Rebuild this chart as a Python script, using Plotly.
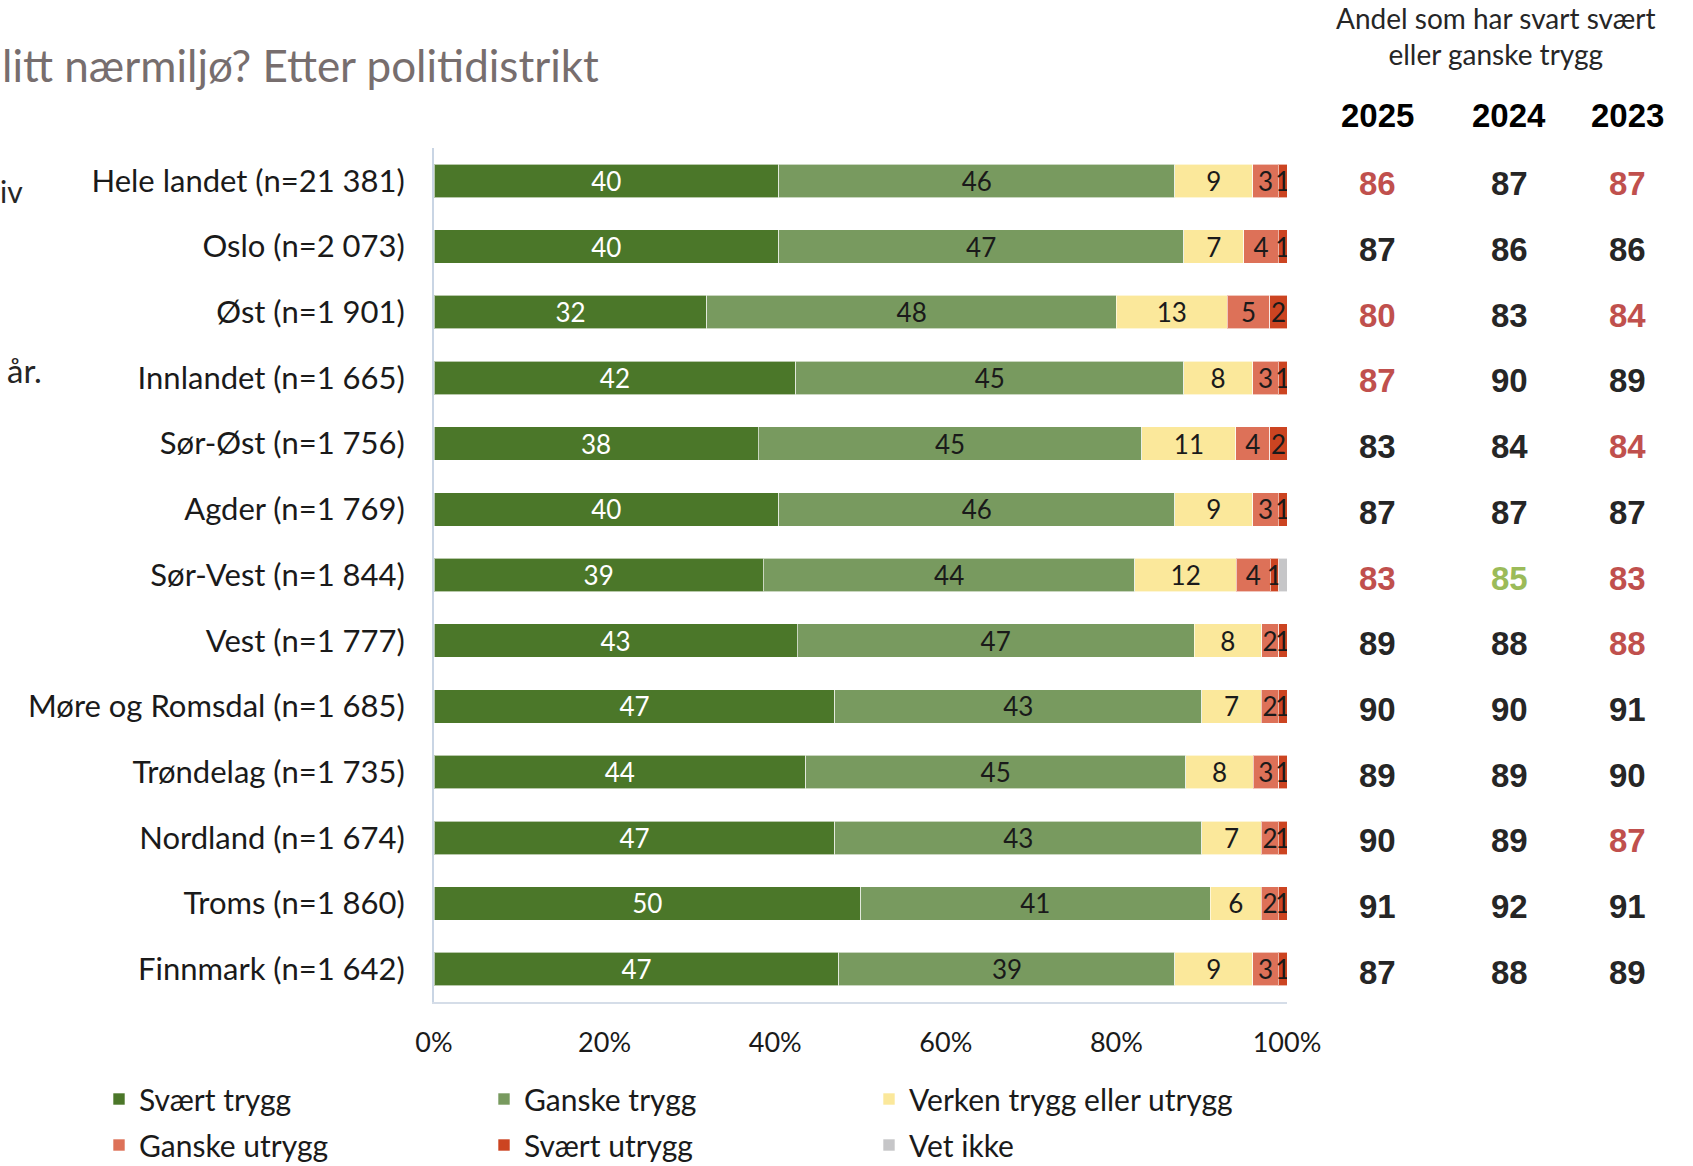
import plotly.graph_objects as go

# Politidistrikt (with sample size)
districts = [
    "Hele landet (n=21 381)", "Oslo (n=2 073)", "Øst (n=1 901)",
    "Innlandet (n=1 665)", "Sør-Øst (n=1 756)", "Agder (n=1 769)",
    "Sør-Vest (n=1 844)", "Vest (n=1 777)", "Møre og Romsdal (n=1 685)",
    "Trøndelag (n=1 735)", "Nordland (n=1 674)", "Troms (n=1 860)",
    "Finnmark (n=1 642)",
]

# Answer distribution, per cent
svaert_trygg = [40, 40, 32, 42, 38, 40, 39, 43, 47, 44, 47, 50, 47]
ganske_trygg = [46, 47, 48, 45, 45, 46, 44, 47, 43, 45, 43, 41, 39]
verken = [9, 7, 13, 8, 11, 9, 12, 8, 7, 8, 7, 6, 9]
ganske_utrygg = [3, 4, 5, 3, 4, 3, 4, 2, 2, 3, 2, 2, 3]
svaert_utrygg = [1, 1, 2, 1, 2, 1, 1, 1, 1, 1, 1, 1, 1]
vet_ikke = [0, 0, 0, 0, 0, 0, 1, 0, 0, 0, 0, 0, 0]

x_ticks = [0, 20, 40, 60, 80, 100]
x_ticklabels = ["0%", "20%", "40%", "60%", "80%", "100%"]

# Share answering "svært" or "ganske trygg", by year
years = ["2025", "2024", "2023"]
andel_2025 = [86, 87, 80, 87, 83, 87, 83, 89, 90, 89, 90, 91, 87]
andel_2024 = [87, 86, 83, 90, 84, 87, 85, 88, 90, 89, 89, 92, 88]
andel_2023 = [87, 86, 84, 89, 84, 87, 83, 88, 91, 90, 87, 91, 89]
# Marking of each figure: "lav" = lower, "hoy" = higher, "" = no marking
merke_2025 = ["lav", "", "lav", "lav", "", "", "lav", "", "", "", "", "", ""]
merke_2024 = ["", "", "", "", "", "", "hoy", "", "", "", "", "", ""]
merke_2023 = ["lav", "", "lav", "", "lav", "", "lav", "lav", "", "", "lav", "", ""]

series = [
    ("Svært trygg", svaert_trygg, "#4b7729", "white"),
    ("Ganske trygg", ganske_trygg, "#789a5f", "#1a1a1a"),
    ("Verken trygg eller utrygg", verken, "#fbe89b", "#1a1a1a"),
    ("Ganske utrygg", ganske_utrygg, "#dd7158", "#1a1a1a"),
    ("Svært utrygg", svaert_utrygg, "#cc4421", "#1a1a1a"),
    ("Vet ikke", vet_ikke, "#c6c6c8", "#1a1a1a"),
]

W, H = 1693, 1166
L, R, T, B = 434, 406, 148, 164
PW, PH = W - L - R, H - T - B


def px(x):
    return (x - L) / PW


def py(y):
    return 1 - (y - T) / PH


FONT = "Lato, 'Noto Sans', sans-serif"
NUMFONT = "'Liberation Sans', Arial, sans-serif"

fig = go.Figure()
for i, (name, vals, color, tcolor) in enumerate(series):
    fig.add_trace(go.Bar(
        name=name,
        y=districts,
        x=vals,
        orientation="h",
        marker=dict(color=color, line=dict(color="rgba(255,255,255,0.6)", width=1)),
        text=[str(v) if v and name != "Vet ikke" else "" for v in vals],
        texttemplate="%{text}",
        textposition="inside",
        textangle=0,
        insidetextanchor="middle",
        constraintext="none",
        textfont=dict(family=FONT, size=26, color=tcolor),
        legend="legend" if i < 3 else "legend2",
        hoverinfo="name+text",
    ))

legend_style = dict(
    orientation="h", xanchor="left", yanchor="middle",
    entrywidth=340, font=dict(size=30, color="#1a1a1a"), bgcolor="rgba(0,0,0,0)",
    traceorder="normal",
)

fig.update_layout(
    width=W, height=H,
    margin=dict(l=L, r=R, t=T, b=B, autoexpand=False),
    barmode="stack",
    barnorm="percent",
    bargap=0.49,
    plot_bgcolor="white",
    paper_bgcolor="white",
    font=dict(family=FONT, color="#1a1a1a"),
    xaxis=dict(
        range=[0, 100], tickvals=x_ticks, ticktext=x_ticklabels,
        showgrid=False, zeroline=False, showline=True, linecolor="#d5dde8", linewidth=2,
        ticks="outside", ticklen=16, tickcolor="rgba(0,0,0,0)",
        tickfont=dict(size=27, color="#1a1a1a"),
    ),
    yaxis=dict(
        categoryorder="array", categoryarray=districts, autorange="reversed",
        showgrid=False, showline=True, linecolor="#c9d5e4", linewidth=2,
        ticks="outside", ticklen=21, tickcolor="rgba(0,0,0,0)",
        tickfont=dict(size=31, color="#1a1a1a"),
    ),
    legend=dict(x=px(99), y=py(1099), **legend_style),
    legend2=dict(x=px(99), y=py(1145), **legend_style),
    showlegend=True,
)

ann = []
# Heading (continues beyond the left edge)
ann.append(dict(text="litt nærmiljø? Etter politidistrikt", x=px(0), y=py(65),
                xanchor="left", yanchor="middle", showarrow=False,
                font=dict(size=44, color="#776e6e", family=FONT)))
ann.append(dict(text="iv", x=px(25), y=py(191), xanchor="right", yanchor="middle",
                showarrow=False, font=dict(size=30, color="#262626", family=FONT)))
ann.append(dict(text="år.", x=px(44), y=py(370), xanchor="right", yanchor="middle",
                showarrow=False, font=dict(size=33, color="#262626", family=FONT)))

# Right-hand table
ann.append(dict(text="Andel som har svart svært<br>eller ganske trygg", x=px(1495), y=py(36),
                xanchor="center", yanchor="middle", showarrow=False,
                font=dict(size=28, color="#262626", family=FONT)))
col_x = [1377, 1509, 1627]
marks = {"lav": "#c0504d", "hoy": "#9bbb59", "": "#262626"}
for cx, year, vals, flags in zip(col_x, years, [andel_2025, andel_2024, andel_2023],
                                 [merke_2025, merke_2024, merke_2023]):
    ann.append(dict(text=f"<b>{year}</b>", x=px(cx), y=py(116), xanchor="center",
                    yanchor="middle", showarrow=False,
                    font=dict(size=33, color="#000000", family=NUMFONT)))
    for d, v, f in zip(districts, vals, flags):
        ann.append(dict(text=f"<b>{v}</b>", x=px(cx), xref="paper", y=d, yref="y",
                        xanchor="center", yanchor="middle", yshift=-3, showarrow=False,
                        font=dict(size=33, color=marks[f], family=NUMFONT)))

for a in ann:
    a.setdefault("xref", "paper")
    a.setdefault("yref", "paper")
fig.update_layout(annotations=ann)

fig.write_html("out.html")
